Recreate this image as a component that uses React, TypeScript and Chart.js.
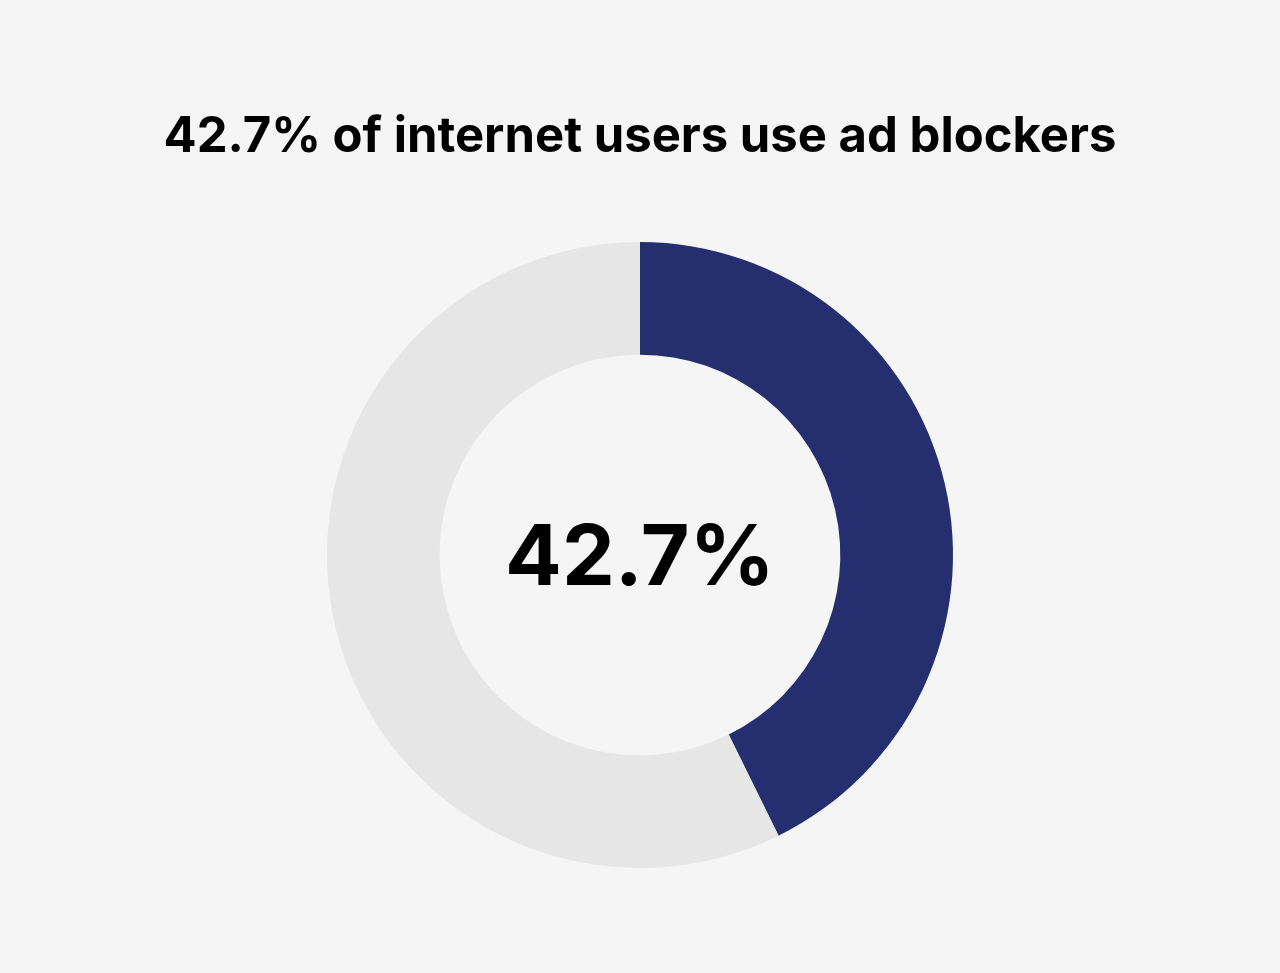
import { useEffect, useRef } from 'react'
import { Chart, registerables, Plugin } from 'chart.js'

Chart.register(...registerables)

const labels = ['Use ad blockers', 'Do not use ad blockers']
const values = [42.7, 57.3]
const colors = ['#252f6f', '#e6e6e6']
const titleText = '42.7% of internet users use ad blockers'
const centerText = '42.7%'

const centerLabel: Plugin<'doughnut'> = {
  id: 'centerLabel',
  afterDraw(chart) {
    const { ctx, chartArea } = chart
    const cx = (chartArea.left + chartArea.right) / 2
    const cy = (chartArea.top + chartArea.bottom) / 2
    ctx.save()
    ctx.fillStyle = '#000000'
    ctx.font = 'bold 84px Inter'
    ctx.textAlign = 'center'
    ctx.textBaseline = 'middle'
    ctx.fillText(centerText, cx, cy + 5)
    ctx.restore()
  },
}

export default function App() {
  const chartRef = useRef<HTMLCanvasElement>(null)
  const chartInstanceRef = useRef<Chart<'doughnut'> | null>(null)

  useEffect(() => {
    document.body.style.margin = '0'
    if (!chartRef.current) return
    const ctx = chartRef.current.getContext('2d')
    if (!ctx) return

    chartInstanceRef.current?.destroy()

    chartInstanceRef.current = new Chart(ctx, {
      type: 'doughnut',
      data: {
        labels,
        datasets: [
          {
            data: values,
            backgroundColor: colors,
            borderWidth: 0,
          },
        ],
      },
      options: {
        responsive: false,
        animation: false,
        cutout: '64%',
        layout: { padding: { top: 0, bottom: 105 } },
        plugins: {
          legend: { display: false },
          tooltip: { enabled: false },
          title: {
            display: true,
            text: titleText,
            color: '#000000',
            font: { family: 'Inter', size: 49, weight: 'bold', lineHeight: 1.2 },
            padding: { top: 108, bottom: 75.2 },
          },
        },
      },
      plugins: [centerLabel],
    })

    return () => {
      chartInstanceRef.current?.destroy()
      chartInstanceRef.current = null
    }
  }, [])

  return (
    <div style={{ width: 1280, height: 973, background: '#f5f5f5' }}>
      <canvas ref={chartRef} width={1280} height={973} style={{ display: 'block' }}></canvas>
    </div>
  )
}
